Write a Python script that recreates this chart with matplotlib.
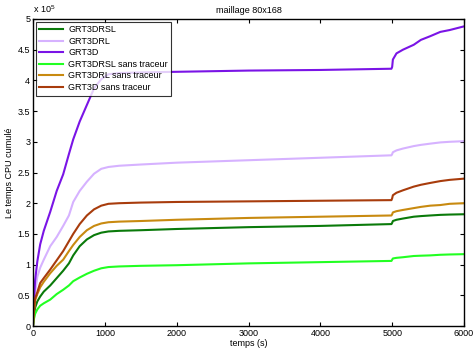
import matplotlib
matplotlib.use("Agg")
import matplotlib.pyplot as plt
import numpy as np

plt.rcParams['font.family'] = ['Liberation Sans', 'DejaVu Sans']
plt.rcParams['mathtext.fontset'] = 'custom'
plt.rcParams['mathtext.rm'] = 'Liberation Sans'

# time grid (s)
t = [0, 10, 30, 60, 100, 150, 240, 330, 420, 500, 560, 650, 750, 850, 950, 1050,
     1200, 1500, 2000, 3000, 4000, 4990, 5000, 5010, 5060, 5150, 5300, 5400, 5530,
     5670, 5800, 6000]

# cumulated CPU time (x 1e5)
grt3drsl = [0, 0.15, 0.30, 0.40, 0.48, 0.56, 0.66, 0.78, 0.90, 1.02, 1.15, 1.30, 1.41,
            1.48, 1.52, 1.54, 1.55, 1.56, 1.58, 1.61, 1.63, 1.66, 1.68, 1.71, 1.73, 1.75,
            1.78, 1.79, 1.80, 1.81, 1.815, 1.82]
grt3drl = [0, 0.25, 0.55, 0.80, 0.95, 1.08, 1.30, 1.45, 1.63, 1.80, 2.02, 2.20, 2.35,
           2.48, 2.56, 2.59, 2.61, 2.63, 2.66, 2.70, 2.74, 2.78, 2.80, 2.83, 2.86, 2.89,
           2.93, 2.95, 2.97, 2.99, 3.00, 3.01]
grt3d = [0, 0.35, 0.75, 1.05, 1.33, 1.55, 1.86, 2.20, 2.47, 2.80, 3.04, 3.33, 3.60,
         3.87, 4.02, 4.10, 4.12, 4.13, 4.14, 4.16, 4.17, 4.19, 4.22, 4.34, 4.44, 4.50,
         4.58, 4.66, 4.72, 4.79, 4.82, 4.88]
grt3drsl_st = [0, 0.10, 0.20, 0.27, 0.33, 0.37, 0.43, 0.52, 0.59, 0.66, 0.73, 0.79, 0.85,
               0.90, 0.94, 0.96, 0.97, 0.98, 0.99, 1.02, 1.04, 1.06, 1.08, 1.10, 1.11,
               1.12, 1.14, 1.145, 1.15, 1.16, 1.165, 1.17]
grt3drl_st = [0, 0.20, 0.42, 0.52, 0.63, 0.72, 0.86, 0.98, 1.08, 1.22, 1.32, 1.45, 1.56,
              1.63, 1.67, 1.69, 1.70, 1.71, 1.73, 1.76, 1.78, 1.80, 1.82, 1.85, 1.87,
              1.89, 1.92, 1.94, 1.96, 1.97, 1.99, 2.00]
grt3d_st = [0, 0.25, 0.45, 0.55, 0.70, 0.78, 0.92, 1.07, 1.22, 1.38, 1.50, 1.66, 1.80,
            1.90, 1.96, 1.99, 2.00, 2.01, 2.02, 2.03, 2.04, 2.05, 2.08, 2.13, 2.17, 2.21,
            2.27, 2.30, 2.33, 2.36, 2.38, 2.40]

labels = ['GRT3DRSL', 'GRT3DRL', 'GRT3D', 'GRT3DRSL sans traceur',
          'GRT3DRL sans traceur', 'GRT3D sans traceur']
series = [grt3drsl, grt3drl, grt3d, grt3drsl_st, grt3drl_st, grt3d_st]
colors = ['#0a7a0a', '#d6b2ff', '#7a14e6', '#22ff22', '#c88a10', '#a83c0c']

fig = plt.figure(figsize=(4.74, 3.48), dpi=100)
ax = fig.add_axes([33/474, 1-326/348, (464-33)/474, (326-19)/348])

for y, lab, c in zip(series, labels, colors):
    ax.plot(t, y, color=c, lw=1.5, label=lab)

ax.set_xlim(0, 6000)
ax.set_ylim(0, 5)
ax.set_xticks(np.arange(0, 6001, 1000))
ax.set_yticks(np.arange(0, 5.01, 0.5))
ax.set_yticklabels(['0', '0.5', '1', '1.5', '2', '2.5', '3', '3.5', '4', '4.5', '5'])
ax.tick_params(direction='in', top=True, right=True, labelsize=6.5, length=3, width=0.8, pad=2)
for s in ax.spines.values():
    s.set_linewidth(1.0)

ax.set_title('maillage 80x168', fontsize=6.5, pad=4)
ax.set_xlabel('temps (s)', fontsize=6.5, labelpad=1)
ax.set_ylabel('Le temps CPU cumulé', fontsize=6.5, labelpad=3)
ax.text(0.0, 1.012, r'x 10$^5$', transform=ax.transAxes, fontsize=6.5, ha='left', va='bottom')

leg = ax.legend(loc='upper left', fontsize=6.5, frameon=True, fancybox=False,
                edgecolor='black', borderpad=0.4, labelspacing=0.28,
                handlelength=2.6, handletextpad=0.6, borderaxespad=0.3)
leg.get_frame().set_linewidth(0.8)

fig.savefig('out.png', dpi=100)
